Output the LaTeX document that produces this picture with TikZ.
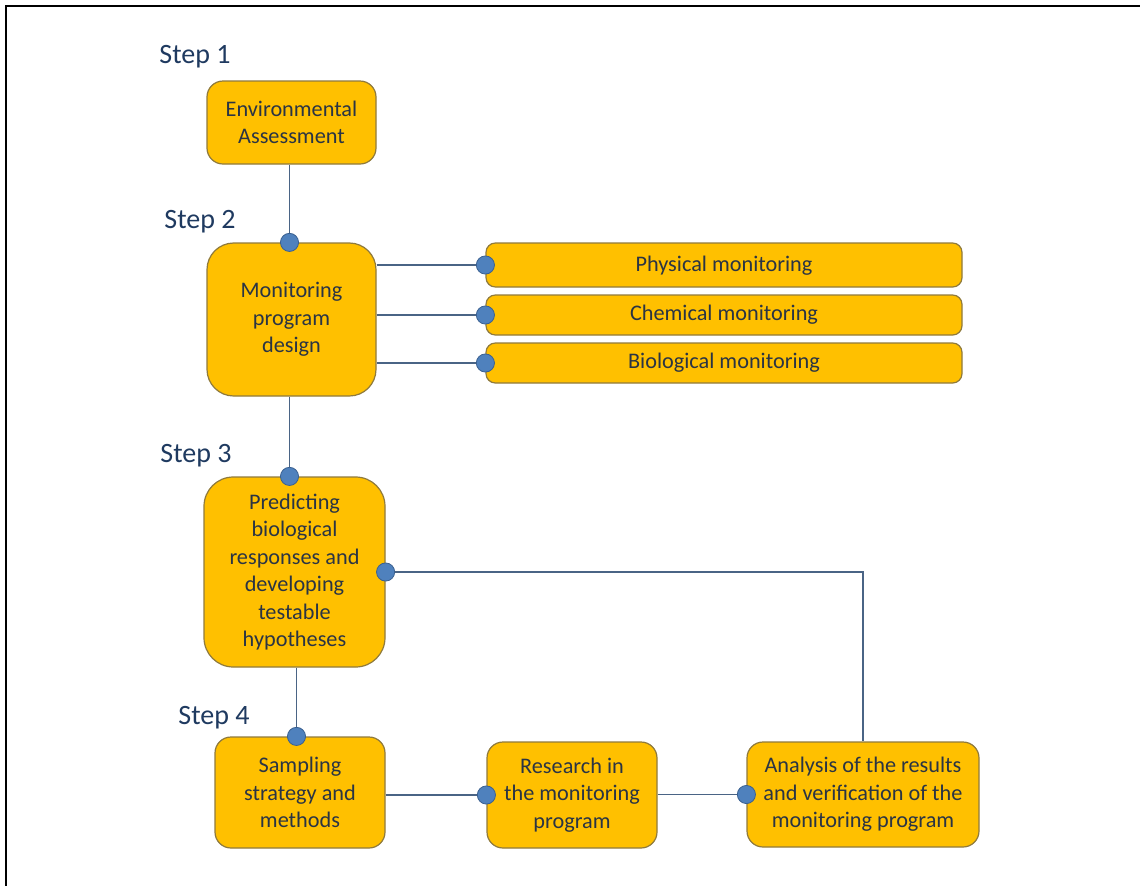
\documentclass[tikz,border=0pt]{standalone}
\usepackage{fontspec}
\setmainfont{Carlito}
\usetikzlibrary{fit}
\definecolor{gold}{HTML}{FFC000}
\definecolor{goldedge}{HTML}{8F7A3C}
\definecolor{dotfill}{HTML}{4F81BD}
\definecolor{dotedge}{HTML}{3A6090}
\definecolor{linec}{HTML}{4A6485}
\definecolor{boxtext}{HTML}{2A3444}
\definecolor{steptext}{HTML}{1F3A60}
\tikzset{
  box/.style={rectangle, rounded corners=#1, fill=gold, draw=goldedge, line width=0.9pt,
    inner sep=0pt},
  box/.default=12pt,
  boxtxt/.style={align=center, text=boxtext, inner sep=0pt,
    font=\fontsize{16.7}{20.6}\selectfont},
  steplabel/.style={text=steptext, font=\fontsize{21}{25}\selectfont, inner sep=0pt},
  conn/.style={draw=linec, line width=0.9pt},
  dotc/.style={fill=dotfill, draw=dotedge, line width=0.6pt}
}
\newcommand{\jdot}[1]{\fill[dotc] (#1) circle (6.8pt);}
\begin{document}
\begin{tikzpicture}[x=0.75pt,y=-0.75pt]
\useasboundingbox (0,0) rectangle (1140,886);
\fill[white] (0,0) rectangle (1140,886);
\draw[black, line width=2pt] (6,886) -- (6,6) -- (1140,6);

% step labels
\node[steplabel] (s1) at (195,57) {Step 1};
\node[steplabel] (s2) at (200,222) {Step 2};
\node[steplabel] (s3) at (196,456) {Step 3};
\node[steplabel] (s4) at (214,718) {Step 4};

% boxes
\node[box=12pt, fit={(207,81) (376,164)}] (env) {};
\node[box=20pt, fit={(207,243) (376,396)}] (mon) {};
\node[box=7pt, fit={(486,243) (962,287)}] (phys) {};
\node[box=7pt, fit={(486,295) (962,335)}] (chem) {};
\node[box=7pt, fit={(486,343) (962,383)}] (bio) {};
\node[box=22pt, fit={(204,477) (385,667)}] (pred) {};
\node[box=12pt, fit={(215,737) (385,848)}] (samp) {};
\node[box=12pt, fit={(487,742) (657,848)}] (res) {};
\node[box=12pt, fit={(747,742) (979,847)}] (ana) {};

% box texts
\node[boxtxt] (tenv) at (env.center) {Environmental\\Assessment};
\node[boxtxt] (tmon) at (mon.center) {Monitoring\\program\\design};
\node[boxtxt] (tphys) at ([yshift=-0.8pt]phys.center) {Physical monitoring};
\node[boxtxt] (tchem) at (chem.center) {Chemical monitoring};
\node[boxtxt] (tbio) at (bio.center) {Biological monitoring};
\node[boxtxt] (tpred) at (pred.center) {Predicting\\biological\\responses and\\developing\\testable\\hypotheses};
\node[boxtxt] (tsamp) at (samp.center) {Sampling\\strategy and\\methods};
\node[boxtxt] (tres) at (res.center) {Research in\\the monitoring\\program};
\node[boxtxt] (tana) at (ana.center) {Analysis of the results\\and verification of the\\monitoring program};

% connectors
\coordinate (monin) at ([xshift=-1.5pt]mon.north);
\draw[conn] (env.south -| monin) -- (monin);
\draw[conn] (mon.east |- phys.west) -- (phys.west);
\draw[conn] (mon.east |- chem.west) -- (chem.west);
\draw[conn] (mon.east |- bio.west) -- (bio.west);
\coordinate (predin) at (monin |- pred.north);
\draw[conn] (mon.south -| predin) -- (predin);
\coordinate (sampin) at ([xshift=1.5pt]pred.south |- samp.north);
\draw[conn] (pred.south -| sampin) -- (sampin);
\draw[conn] (samp.east |- res.west) -- (res.west);
\draw[conn] (res.east |- ana.west) -- (ana.west);
\draw[conn] (pred.east) -- (ana.north |- pred.east) -- (ana.north);

% junction dots
\jdot{monin}
\jdot{phys.west}
\jdot{chem.west}
\jdot{bio.west}
\jdot{predin}
\jdot{pred.east}
\jdot{sampin}
\jdot{res.west}
\jdot{ana.west}
\end{tikzpicture}
\end{document}
